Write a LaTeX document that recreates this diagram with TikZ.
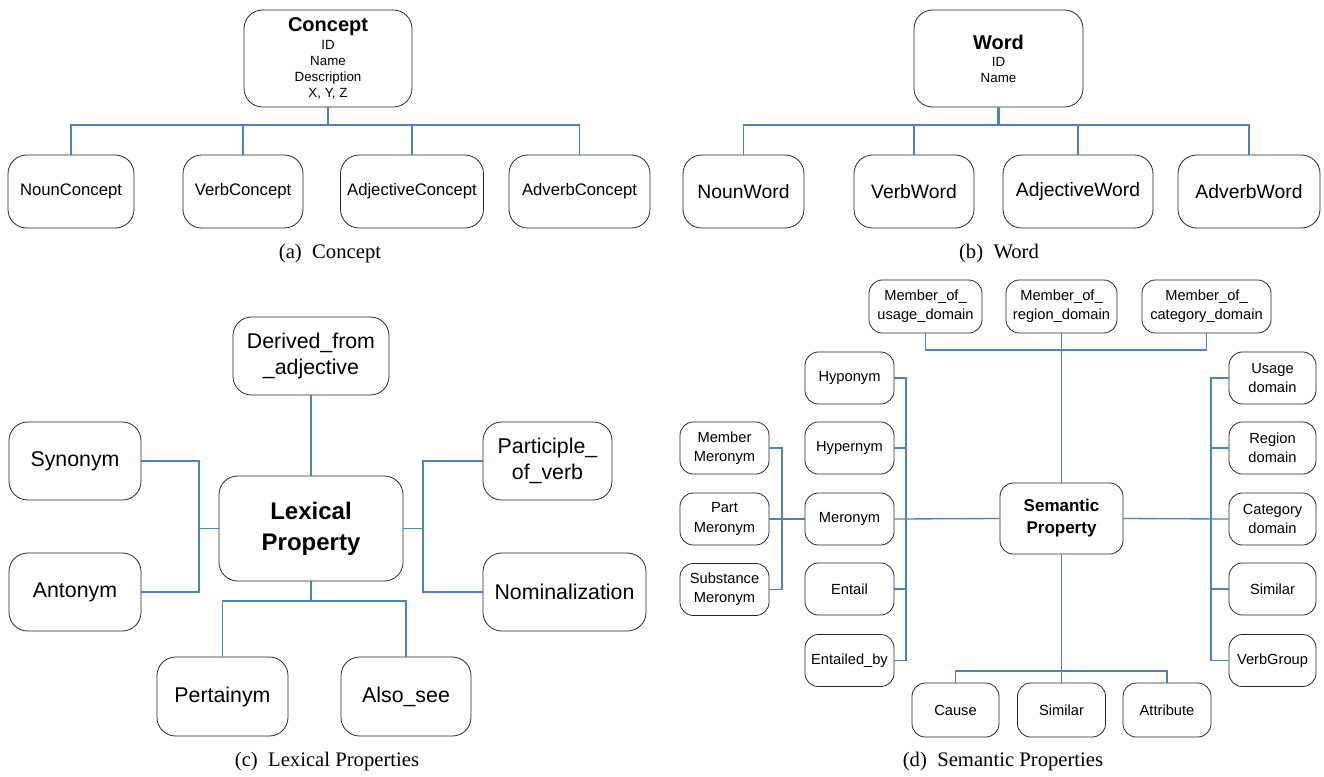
\documentclass[tikz,border=0pt]{standalone}
\usepackage{fontspec}
\setmainfont{Liberation Serif}
\setsansfont{Liberation Sans}
\usetikzlibrary{positioning}
\definecolor{linkblue}{RGB}{79,129,189}
\tikzstyle{entity} = [rectangle, rounded corners=14pt, draw=black!85, line width=0.6pt, align=center, inner sep=2pt]
\tikzstyle{header} = [entity, font=\sffamily\fontsize{10}{12}\selectfont]
\tikzstyle{conceptbox} = [entity, font=\sffamily\fontsize{12.5}{15}\selectfont, minimum height=54.75pt]
\tikzstyle{wordbox} = [entity, font=\sffamily\fontsize{14.5}{17}\selectfont, minimum height=54.75pt]
\tikzstyle{lexbox} = [entity, font=\sffamily\fontsize{16}{19.5}\selectfont, minimum height=58.5pt]
\tikzstyle{sembox} = [entity, rounded corners=10pt, font=\sffamily\fontsize{11}{14.5}\selectfont, minimum height=39pt]
\tikzstyle{link} = [draw=linkblue, line width=1pt]
\tikzstyle{trunk} = [draw=linkblue, line width=1.6pt]
\tikzstyle{caption} = [font=\fontsize{15.5}{18}\selectfont]

\begin{document}
\begin{tikzpicture}[x=0.75pt, y=-0.75pt]
\useasboundingbox (0,0) rectangle (1324,776);

    % (a) Concept
    \node (concept) [header, minimum width=126pt, minimum height=72.75pt] at (328,58.5)
        {{\fontsize{15}{17}\selectfont\bfseries Concept}\\[1pt] ID\\ Name\\ Description\\ X, Y, Z};
    \node (nounC) [conceptbox, minimum width=94.5pt] at (71,191.5) {NounConcept};
    \node (verbC) [conceptbox, minimum width=90pt] at (243,191.5) {VerbConcept};
    \node (adjC) [conceptbox, minimum width=107.25pt] at (412,191.5) {AdjectiveConcept};
    \node (advC) [conceptbox, minimum width=105.75pt] at (579.5,191.5) {AdverbConcept};
    \node (capA) [caption] at (330,254) {(a)\ \ Concept};

    % (b) Word
    \node (word) [header, minimum width=126.75pt, minimum height=72.75pt] at (998.5,58.5)
        {{\fontsize{15}{17}\selectfont\bfseries Word}\\[1pt] ID\\ Name};
    \node (nounW) [wordbox, minimum width=90.75pt] at (743.5,191.5) {NounWord};
    \node (verbW) [wordbox, minimum width=90pt] at (914,191.5) {VerbWord};
    \node (adjW) [wordbox, minimum width=112.5pt] at (1078,191.5) {AdjectiveWord};
    \node (advW) [wordbox, minimum width=106.5pt] at (1249,191.5) {AdverbWord};
    \node (capB) [caption] at (999,254) {(b)\ \ Word};

    % (c) Lexical Properties
    \node (lexical) [lexbox, minimum width=138pt, minimum height=78.75pt,
        font=\sffamily\bfseries\fontsize{18}{23}\selectfont] at (311,528.5) {Lexical\\ Property};
    \node (derived) [lexbox, minimum width=117pt] at (311,356) {Derived\_from\\ \_adjective};
    \node (synonym) [lexbox, minimum width=99pt] at (75,461) {Synonym};
    \node (antonym) [lexbox, minimum width=99pt] at (75,592) {Antonym};
    \node (participle) [lexbox, minimum width=96.75pt] at (547.5,461) {Participle\_\\ of\_verb};
    \node (nominal) [lexbox, minimum width=122.25pt] at (564.5,592) {Nominalization};
    \node (pertainym) [lexbox, minimum width=98.25pt, minimum height=59.25pt] at (222.5,696.5) {Pertainym};
    \node (alsosee) [lexbox, minimum width=97.5pt, minimum height=59.25pt] at (406,696.5) {Also\_see};
    \node (capC) [caption] at (327,762) {(c)\ \ Lexical Properties};

    % (d) Semantic Properties
    \node (semantic) [sembox, minimum width=92.25pt, minimum height=53.25pt,
        font=\sffamily\bfseries\fontsize{12.75}{16.5}\selectfont] at (1061.5,518.5) {Semantic\\ Property};
    \node (mUsage) [sembox, minimum width=84.75pt, minimum height=39.75pt] at (925.5,306.5) {Member\_of\_\\ usage\_domain};
    \node (mRegion) [sembox, minimum width=83.25pt, minimum height=39.75pt] at (1061.5,306.5) {Member\_of\_\\ region\_domain};
    \node (mCategory) [sembox, minimum width=96.75pt, minimum height=39.75pt] at (1206.5,306.5) {Member\_of\_\\ category\_domain};
    \node (hypo) [sembox, minimum width=66.75pt] at (849.5,378) {Hyponym};
    \node (hyper) [sembox, minimum width=66.75pt] at (849.5,448) {Hypernym};
    \node (mero) [sembox, minimum width=66.75pt] at (849.5,519) {Meronym};
    \node (entail) [sembox, minimum width=66.75pt] at (849.5,589) {Entail};
    \node (entailedBy) [sembox, minimum width=66.75pt] at (849.5,660.5) {Entailed\_by};
    \node (memberM) [sembox, minimum width=66.75pt] at (724.5,448) {Member\\ Meronym};
    \node (partM) [sembox, minimum width=66.75pt] at (724.5,519) {Part\\ Meronym};
    \node (substM) [sembox, minimum width=66.75pt] at (724.5,589.5) {Substance\\ Meronym};
    \node (usageD) [sembox, minimum width=65.25pt] at (1272.5,378) {Usage\\ domain};
    \node (regionD) [sembox, minimum width=65.25pt] at (1272.5,448) {Region\\ domain};
    \node (categoryD) [sembox, minimum width=65.25pt] at (1272.5,519) {Category\\ domain};
    \node (similarR) [sembox, minimum width=65.25pt] at (1272.5,589) {Similar};
    \node (verbGroup) [sembox, minimum width=65.25pt] at (1272.5,660.5) {VerbGroup};
    \node (cause) [sembox, minimum width=65.25pt, minimum height=40.5pt] at (955.5,710) {Cause};
    \node (similarB) [sembox, minimum width=66pt, minimum height=40.5pt] at (1061.5,710) {Similar};
    \node (attribute) [sembox, minimum width=66pt, minimum height=40.5pt] at (1167,710) {Attribute};
    \node (capD) [caption] at (1003,762) {(d)\ \ Semantic Properties};

    % Bus points
    \coordinate (conceptBus) at (328,125);
    \coordinate (wordBus) at (998.5,125);
    \coordinate (lexL) at (199,528.5);
    \coordinate (lexR) at (423,528.5);
    \coordinate (lexB) at (311,601);
    \coordinate (semT) at (1061.5,350);
    \coordinate (semL) at (906,519);
    \coordinate (meroL) at (782,519);
    \coordinate (semR) at (1211,519);
    \coordinate (semB) at (1061.5,671);

    % Links
    \draw [trunk] (concept) -- (conceptBus);
    \foreach \n in {nounC, verbC, adjC, advC}
        \draw [link, line width=1.3pt] (conceptBus) -| (\n.north);
    \draw [trunk] (word) -- (wordBus);
    \foreach \n in {nounW, verbW, adjW, advW}
        \draw [link, line width=1.3pt] (wordBus) -| (\n.north);

    \draw [link] (derived) -- (lexical);
    \draw [link] (lexical.west) -- (lexL);
    \draw [link] (synonym.east) -| (lexL);
    \draw [link] (antonym.east) -| (lexL);
    \draw [link] (lexical.east) -- (lexR);
    \draw [link] (participle.west) -| (lexR);
    \draw [link] (nominal.west) -| (lexR);
    \draw [link] (lexical) -- (lexB);
    \draw [link] (lexB) -| (pertainym.north);
    \draw [link] (lexB) -| (alsosee.north);

    \draw [link] (mRegion) -- (semantic);
    \draw [link] (semT) -| (mUsage.south);
    \draw [link] (semT) -| (mCategory.south);
    \draw [link] (semantic.west) -- (mero.east);
    \foreach \n in {hypo, hyper, entail, entailedBy}
        \draw [link] (\n.east) -| (semL);
    \draw [link] (partM.east) -- (mero.west);
    \draw [link] (memberM.east) -| (meroL);
    \draw [link] (substM.east) -| (meroL);
    \draw [link] (semantic.east) -- (categoryD.west);
    \foreach \n in {usageD, regionD, similarR, verbGroup}
        \draw [link] (\n.west) -| (semR);
    \draw [link] (semantic) -- (similarB);
    \draw [link] (semB) -| (cause.north);
    \draw [link] (semB) -| (attribute.north);

\end{tikzpicture}
\end{document}
